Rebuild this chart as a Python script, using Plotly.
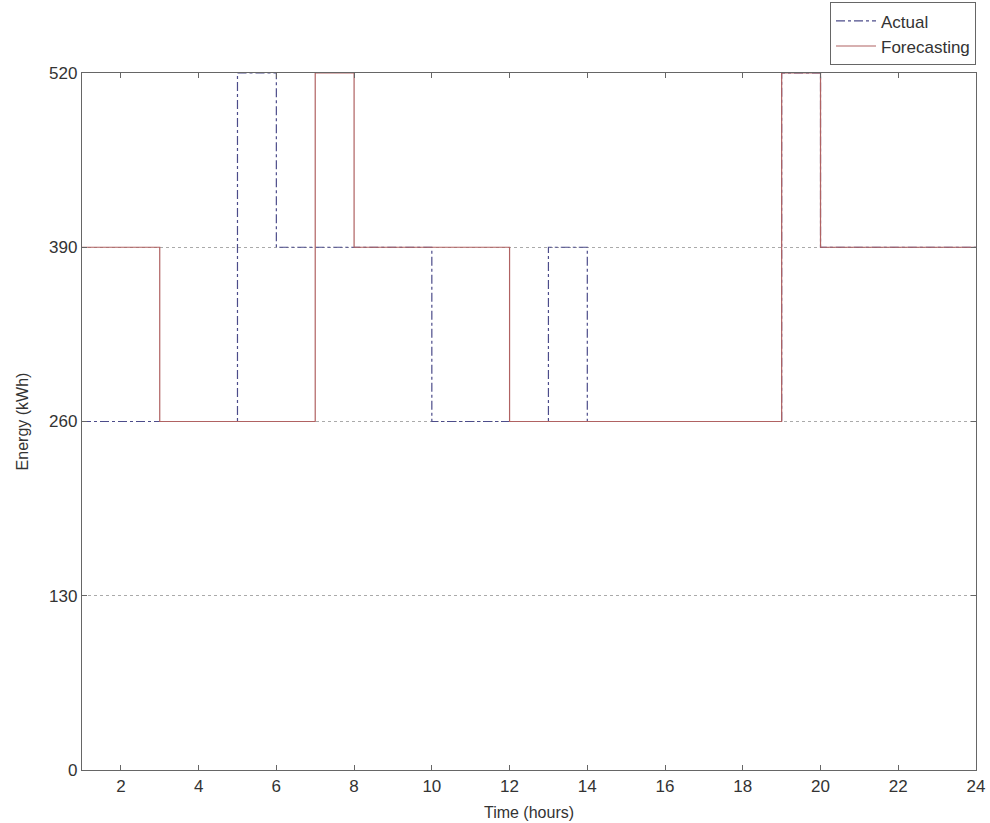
import plotly.graph_objects as go

hours = list(range(1, 25))
actual = [260, 260, 260, 260, 520, 390, 390, 390, 390, 260, 260, 260,
          390, 260, 260, 260, 260, 260, 520, 390, 390, 390, 390, 390]
forecast = [390, 390, 260, 260, 260, 260, 520, 390, 390, 390, 390, 260,
            260, 260, 260, 260, 260, 260, 520, 390, 390, 390, 390, 390]
x_ticks = list(range(2, 25, 2))
y_ticks = [0, 130, 260, 390, 520]

fig = go.Figure()
fig.add_trace(go.Scatter(x=hours, y=actual, mode="lines", name="Actual",
                         line=dict(shape="hv", color="#4c4c8a", width=1.2, dash="dashdot")))
fig.add_trace(go.Scatter(x=hours, y=forecast, mode="lines", name="Forecasting",
                         line=dict(shape="hv", color="#b06262", width=1.2)))

axis_common = dict(showline=True, linecolor="#666666", linewidth=1.3, mirror="ticks",
                   ticks="inside", ticklen=5, tickcolor="#666666", zeroline=False,
                   automargin=False,
                   tickfont=dict(size=17, color="#333333"))
fig.update_xaxes(range=[1, 24], tickvals=x_ticks, showgrid=False,
                 title=dict(text="Time (hours)", font=dict(size=16, color="#333333"), standoff=12),
                 **axis_common)
fig.update_yaxes(range=[0, 520], tickvals=y_ticks, showgrid=True, gridcolor="#aaaaaa",
                 griddash="dot", gridwidth=1,
                 title=dict(text="Energy (kWh)", font=dict(size=16, color="#333333"), standoff=16),
                 **axis_common)

fig.update_layout(
    width=990, height=823,
    margin=dict(l=82, r=14, t=73, b=53, autoexpand=False),
    paper_bgcolor="white", plot_bgcolor="white",
    font=dict(family="Liberation Sans, Arial, sans-serif", size=16, color="#333333"),
    showlegend=True,
    legend=dict(x=1, y=1.011, xanchor="right", yanchor="bottom",
                bordercolor="#666666", borderwidth=1, bgcolor="white",
                font=dict(size=17), tracegroupgap=0, itemwidth=40),
)

fig.write_html("out.html", config={"displayModeBar": False},
               post_script="document.body.style.margin='0';")
